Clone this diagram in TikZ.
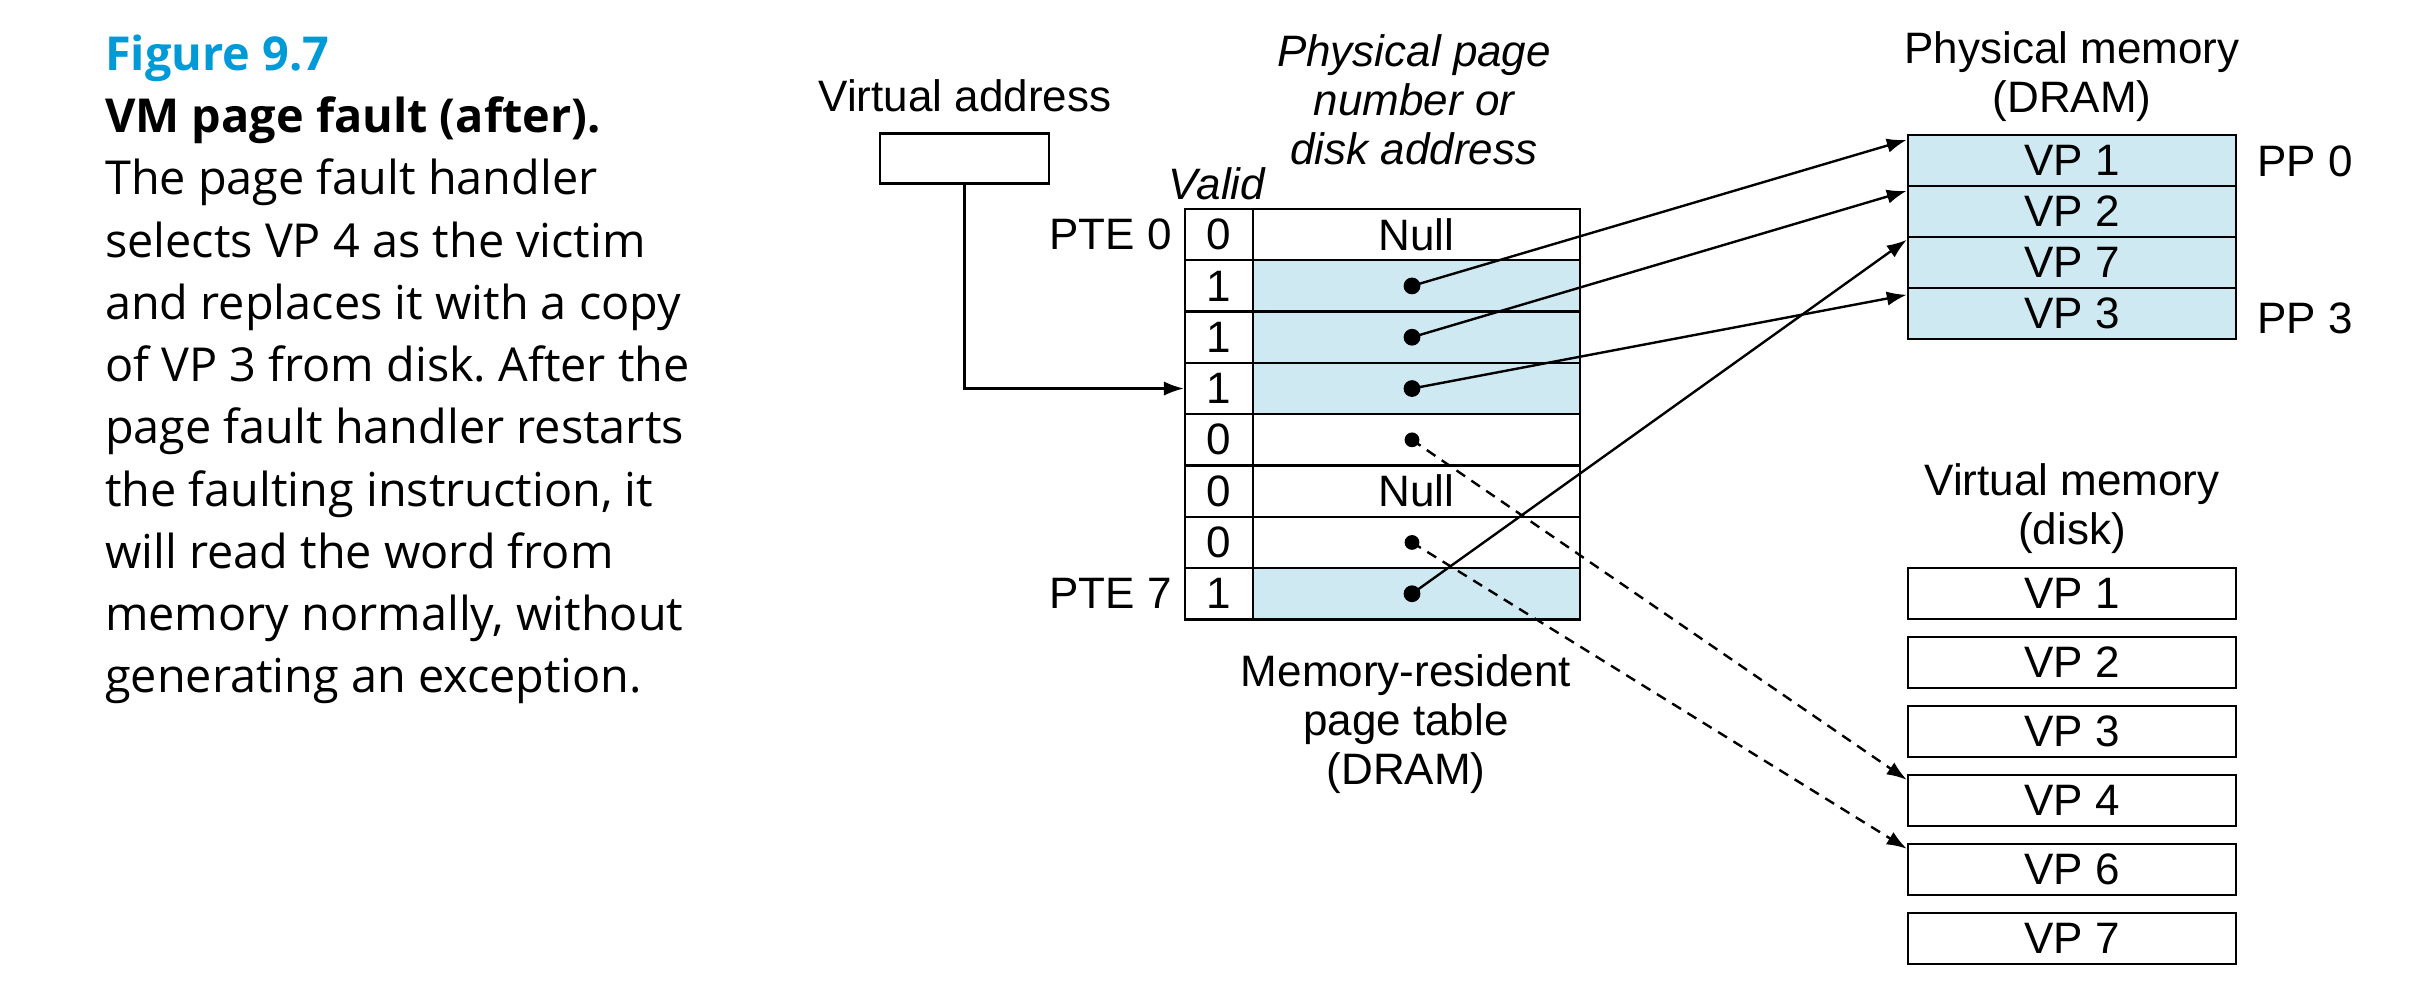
\documentclass[tikz,border=0pt]{standalone}
\usepackage{fontspec}
\setmainfont{Liberation Sans}
\newfontfamily\captionfont{Open Sans}
\usetikzlibrary{arrows.meta}
\definecolor{pageblue}{RGB}{207,233,242}
\definecolor{figblue}{RGB}{0,155,215}
\frenchspacing

\begin{document}
\begin{tikzpicture}[x=0.25pt, y=-0.25pt, >={Latex[length=5pt,width=3.6pt]}, line width=0.6pt,
  every node/.style={font=\fontsize{11}{12.3}\selectfont, inner sep=0pt},
  validcell/.style={draw, minimum width=17pt, minimum height=12.825pt},
  pagecell/.style={draw, minimum width=81.75pt, minimum height=12.825pt},
  memcell/.style={draw, minimum width=82pt, minimum height=12.75pt},
  bigdot/.style={circle, fill, minimum size=4.2pt},
  smalldot/.style={circle, fill, minimum size=3.7pt},
  title/.style={align=center, anchor=north},
  captext/.style={anchor=base west, font=\captionfont\fontsize{11.7}{15.5}\selectfont},
  diskref/.style={->, dash pattern=on 2.6pt off 1.9pt}]
\useasboundingbox (0,0) rectangle (2410,1004);
% caption
\node[captext, font=\captionfont\bfseries\fontsize{11.7}{15.5}\selectfont, text=figblue] (fig) at (104,71) {Figure 9.7};
\node[captext, font=\captionfont\bfseries\fontsize{11.7}{15.5}\selectfont] (figtitle) at (104,133) {VM page fault (after).};
\foreach \ln [count=\i from 0] in {{The page fault handler},{selects VP 4 as the victim},
  {and replaces it with a copy},{of VP 3 from disk. After the},{page fault handler restarts},
  {the faulting instruction, it},{will read the word from},{memory normally, without},
  {generating an exception.}}
  \node[captext] (cap\i) at (104,{195+62.25*\i}) {\ln};
% virtual address
\node[anchor=base] (valabel) at (965,112) {Virtual address};
\node[draw, minimum width=42.25pt, minimum height=12.5pt] (va) at (964.5,158.5) {};
% page table
\node[anchor=base, font=\itshape\fontsize{11}{12.3}\selectfont] (validlabel) at (1217,200) {Valid};
\node[title, font=\itshape\fontsize{11}{12.3}\selectfont] (ppnlabel) at (1414,33) {Physical page\\number or\\disk address};
\foreach \v/\f/\t [count=\i from 0] in {0/white/Null,1/pageblue/,1/pageblue/,1/pageblue/,
  0/white/,0/white/Null,0/white/,1/pageblue/}{
  \node[validcell] (v\i) at (1219,{234.65+51.3*\i}) {\v};
  \node[pagecell, fill=\f] (p\i) at (1416.5,{234.65+51.3*\i}) {\t};
}
\node[anchor=base east] (pte0) at (1173,250) {PTE 0};
\node[anchor=base east] (pte7) at (1173,609) {PTE 7};
\foreach \i in {1,2,3,7} \node[bigdot] (d\i) at (1412,{234.65+51.3*\i}) {};
\foreach \i in {4,6} \node[smalldot] (d\i) at (1412,{234.65+51.3*\i}) {};
\node[title] (ptlabel) at (1406,653) {Memory-resident\\page table\\(DRAM)};
% physical memory
\node[title] (pmlabel) at (2072,30) {Physical memory\\(DRAM)};
\foreach \t [count=\i] in {1,2,7,3}
  \node[memcell, fill=pageblue] (pm\i) at (2072,{109.5+51*\i}) {VP \t};
\node[anchor=west] (pp0) at (2256,161) {PP 0};
\node[anchor=west] (pp3) at (2256,318) {PP 3};
% virtual memory (disk)
\node[title] (vmlabel) at (2072,462) {Virtual memory\\(disk)};
\foreach \t [count=\i] in {1,2,3,4,6,7}
  \node[memcell] (vm\i) at (2072,{524.5+69*\i}) {VP \t};
% connectors
\draw[->] (va.south) |- (v3.west);
\draw[->] (d1.center) -- ([yshift=-1.5pt]pm1.north west);
\draw[->] (d2.center) -- ([yshift=-1.5pt]pm2.north west);
\draw[->] (d7.center) -- ([yshift=-1pt]pm3.north west);
\draw[->] (d3.center) -- ([yshift=-2pt]pm4.north west);
\draw[diskref] (d4.center) -- ([yshift=-1.5pt]vm4.north west);
\draw[diskref] (d6.center) -- ([yshift=-1.5pt]vm5.north west);
\end{tikzpicture}
\end{document}
